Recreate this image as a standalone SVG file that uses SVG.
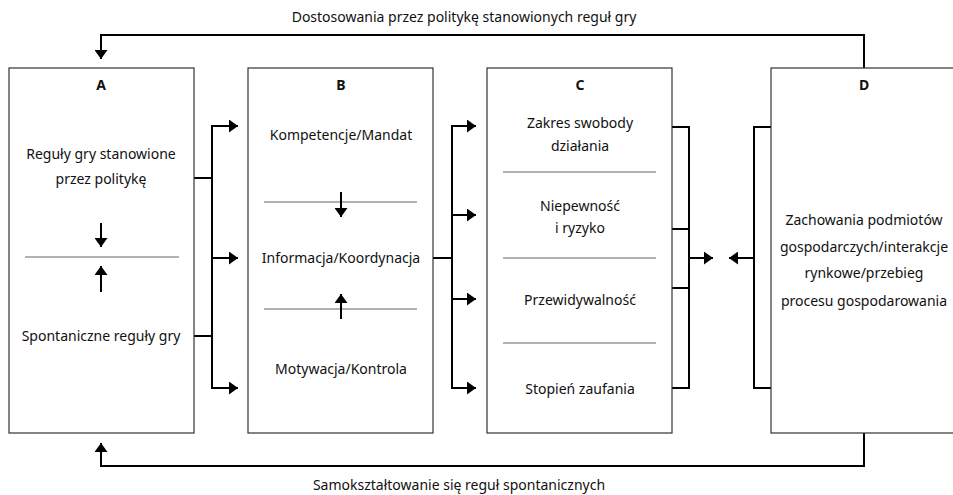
<svg xmlns="http://www.w3.org/2000/svg" width="953" height="495" viewBox="0 0 953 495">
<defs>
<marker id="ah" viewBox="0 0 9 13" refX="9" refY="6.5" markerWidth="9" markerHeight="13" markerUnits="userSpaceOnUse" orient="auto">
<path d="M0,0 L9,6.5 L0,13 z" fill="#000"/>
</marker>
<style>
text{font-family:"Noto Sans","Open Sans",sans-serif;font-size:14px;fill:#111;text-anchor:middle}
.t{font-weight:bold}
.box{fill:#fff;stroke:#333;stroke-width:1.2}
.sep{stroke:#666;stroke-width:1.2;fill:none}
.c{stroke:#000;stroke-width:2;fill:none}
.ca{stroke:#000;stroke-width:2;fill:none;marker-end:url(#ah)}
</style>
</defs>
<rect width="953" height="495" fill="#fff"/>
<g id="connectors">
<path class="ca" d="M864,68 V35 H101 V59"/>
<path class="ca" d="M864,433 V466 H101 V443"/>
<path class="c" d="M194,178 H212 M194,336 H212 M212,126 V388"/>
<path class="ca" d="M211,126 H238"/>
<path class="ca" d="M212,258 H238"/>
<path class="ca" d="M211,388 H238"/>
<path class="c" d="M433,258 H452 M452,126 V388"/>
<path class="ca" d="M451,126 H476"/>
<path class="ca" d="M452,215 H476"/>
<path class="ca" d="M452,299 H476"/>
<path class="ca" d="M451,388 H476"/>
<path class="c" d="M672,127 H689 M672,229 H689 M672,288 H689 M672,388 H689 M689,126 V389"/>
<path class="ca" d="M689,258 H713"/>
<path class="c" d="M771,127 H754 M771,388 H754 M754,126 V389"/>
<path class="ca" d="M754,258 H729"/>
</g>
<text x="464" y="22">Dostosowania przez politykę stanowionych reguł gry</text>
<text x="459" y="490">Samokształtowanie się reguł spontanicznych</text>
<g id="A">
<rect class="box" x="9" y="68" width="185" height="365"/>
<text class="t" x="101" y="90">A</text>
<text x="101" y="159">Reguły gry stanowione</text>
<text x="101" y="184">przez politykę</text>
<path class="ca" d="M101,223 V247"/>
<line class="sep" x1="25" y1="257" x2="179" y2="257"/>
<path class="ca" d="M101,292 V266"/>
<text x="101" y="341">Spontaniczne reguły gry</text>
</g>
<g id="B">
<rect class="box" x="248" y="68" width="185" height="365"/>
<text class="t" x="341" y="90">B</text>
<text x="341" y="140">Kompetencje/Mandat</text>
<line class="sep" x1="264" y1="202" x2="417" y2="202"/>
<path class="ca" d="M341,192 V217"/>
<text x="341" y="263">Informacja/Koordynacja</text>
<line class="sep" x1="264" y1="309" x2="417" y2="309"/>
<path class="ca" d="M341,319 V294"/>
<text x="341" y="374">Motywacja/Kontrola</text>
</g>
<g id="C">
<rect class="box" x="487" y="68" width="185" height="365"/>
<text class="t" x="580" y="90">C</text>
<text x="580" y="128">Zakres swobody</text>
<text x="580" y="151">działania</text>
<line class="sep" x1="503" y1="172" x2="656" y2="172"/>
<text x="580" y="211">Niepewność</text>
<text x="580" y="233">i ryzyko</text>
<line class="sep" x1="503" y1="258" x2="656" y2="258"/>
<text x="580" y="305">Przewidywalność</text>
<line class="sep" x1="503" y1="343" x2="656" y2="343"/>
<text x="580" y="394">Stopień zaufania</text>
</g>
<g id="D">
<rect class="box" x="771" y="68" width="190" height="365"/>
<text class="t" x="864" y="90">D</text>
<text x="864" y="225">Zachowania podmiotów</text>
<text x="864" y="252">gospodarczych/interakcje</text>
<text x="864" y="278">rynkowe/przebieg</text>
<text x="864" y="306">procesu gospodarowania</text>
</g>
</svg>
